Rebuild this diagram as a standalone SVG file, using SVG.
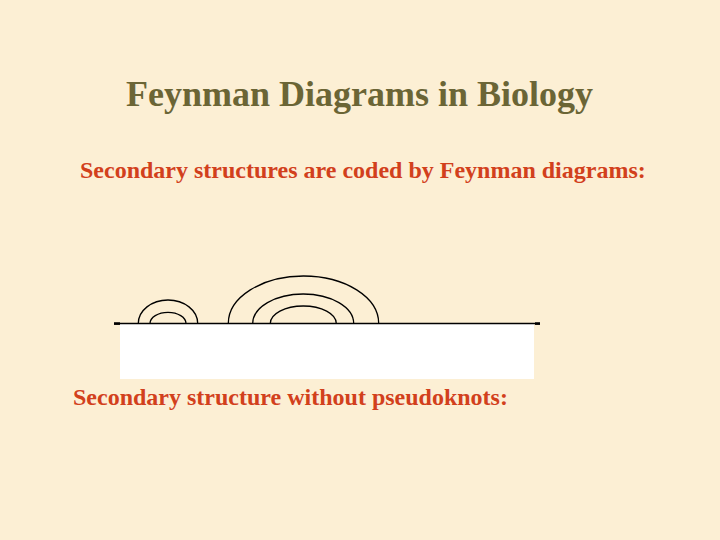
<svg xmlns="http://www.w3.org/2000/svg" width="720" height="540" viewBox="0 0 720 540">
<style>
.t{font-family:"Liberation Serif","Times New Roman",serif;font-weight:bold}
.arc{fill:none;stroke:#000;stroke-width:1.3}
</style>
<rect width="720" height="540" fill="#FCEFD4"/>
<text class="t" x="359.5" y="106" text-anchor="middle" font-size="36" fill="#6B6535">Feynman Diagrams in Biology</text>
<text class="t" x="80" y="178" font-size="24" fill="#D2401C">Secondary structures are coded by Feynman diagrams:</text>
<g id="strand">
<rect x="120" y="324" width="414" height="55" fill="#FFFFFF"/>
<line x1="114" y1="323.5" x2="540" y2="323.5" stroke="#000" stroke-width="1.3"/>
<rect x="114" y="322.3" width="6" height="2.6" fill="#000"/>
<rect x="535" y="322.3" width="5" height="2.6" fill="#000"/>
</g>
<g id="connectors">
<path class="arc" d="M138.3,323.5 A29.7,23.5 0 0 1 197.7,323.5"/>
<path class="arc" d="M150,323.5 A18,11.2 0 0 1 186,323.5"/>
<path class="arc" d="M228.3,323.5 A75.2,47.5 0 0 1 378.7,323.5"/>
<path class="arc" d="M252.7,323.5 A50.5,29.5 0 0 1 353.7,323.5"/>
<path class="arc" d="M270.3,323.5 A33,17.5 0 0 1 336.3,323.5"/>
</g>
<text class="t" x="73" y="405" font-size="24" fill="#D2401C">Secondary structure without pseudoknots:</text>
</svg>
